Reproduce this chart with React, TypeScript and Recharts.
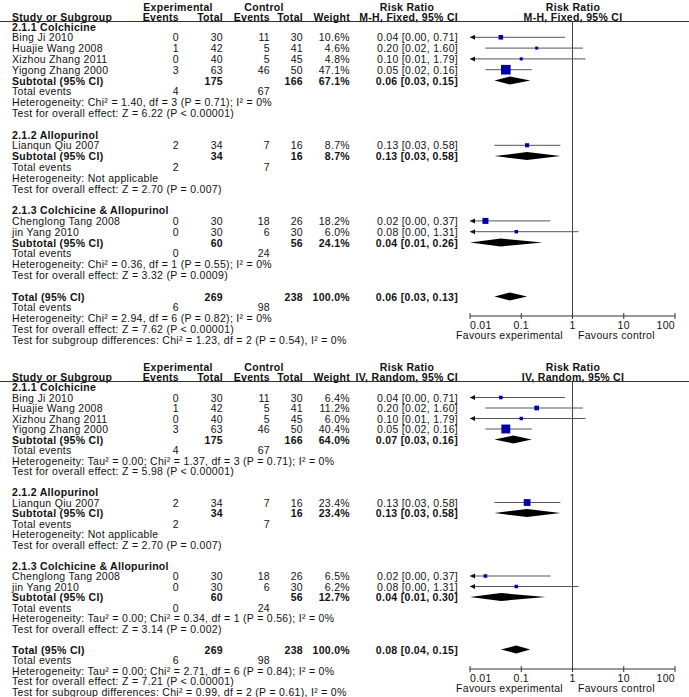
import React from "react";
import { ScatterChart, Scatter, XAxis, YAxis, ReferenceLine } from "recharts";

// studies
const studyNames = [
  "Bing Ji 2010",
  "Huajie Wang 2008",
  "Xizhou Zhang 2011",
  "Yigong Zhang 2000",
  "Lianqun Qiu 2007",
  "Chenglong Tang 2008",
  "jin Yang 2010",
];
const studyGroup = [0, 0, 0, 0, 1, 2, 2];
const expEvents = [0, 1, 0, 3, 2, 0, 0];
const expTotals = [30, 42, 40, 63, 34, 30, 30];
const ctrlEvents = [11, 5, 5, 46, 7, 18, 6];
const ctrlTotals = [30, 41, 45, 50, 16, 26, 30];
const studyRR = [0.04, 0.2, 0.1, 0.05, 0.13, 0.02, 0.08];
const studyLower = [0.0, 0.02, 0.01, 0.02, 0.03, 0.0, 0.0];
const studyUpper = [0.71, 1.6, 1.79, 0.16, 0.58, 0.37, 1.31];
const fixedWeights = [10.6, 4.6, 4.8, 47.1, 8.7, 18.2, 6.0];
const randomWeights = [6.4, 11.2, 6.0, 40.4, 23.4, 6.5, 6.2];

// subgroups
const groupNames = ["2.1.1 Colchicine", "2.1.2 Allopurinol", "2.1.3 Colchicine & Allopurinol"];
const groupExpEvents = [4, 2, 0];
const groupExpTotals = [175, 34, 60];
const groupCtrlEvents = [67, 7, 24];
const groupCtrlTotals = [166, 16, 56];

const fixedGroupRR = [0.06, 0.13, 0.04];
const fixedGroupLower = [0.03, 0.03, 0.01];
const fixedGroupUpper = [0.15, 0.58, 0.26];
const fixedGroupWeights = [67.1, 8.7, 24.1];
const fixedGroupHet = [
  "Heterogeneity: Chi² = 1.40, df = 3 (P = 0.71); I² = 0%",
  "Heterogeneity: Not applicable",
  "Heterogeneity: Chi² = 0.36, df = 1 (P = 0.55); I² = 0%",
];
const fixedGroupTest = [
  "Test for overall effect: Z = 6.22 (P < 0.00001)",
  "Test for overall effect: Z = 2.70 (P = 0.007)",
  "Test for overall effect: Z = 3.32 (P = 0.0009)",
];

const randomGroupRR = [0.07, 0.13, 0.04];
const randomGroupLower = [0.03, 0.03, 0.01];
const randomGroupUpper = [0.16, 0.58, 0.3];
const randomGroupWeights = [64.0, 23.4, 12.7];
const randomGroupHet = [
  "Heterogeneity: Tau² = 0.00; Chi² = 1.37, df = 3 (P = 0.71); I² = 0%",
  "Heterogeneity: Not applicable",
  "Heterogeneity: Tau² = 0.00; Chi² = 0.34, df = 1 (P = 0.56); I² = 0%",
];
const randomGroupTest = [
  "Test for overall effect: Z = 5.98 (P < 0.00001)",
  "Test for overall effect: Z = 2.70 (P = 0.007)",
  "Test for overall effect: Z = 3.14 (P = 0.002)",
];

// overall
const totalCounts = [6, 269, 98, 238]; // exp events, exp total, ctrl events, ctrl total
const fixedTotal = [0.06, 0.03, 0.13];
const randomTotal = [0.08, 0.04, 0.15];
const fixedTotalNotes = [
  "Heterogeneity: Chi² = 2.94, df = 6 (P = 0.82); I² = 0%",
  "Test for overall effect: Z = 7.62 (P < 0.00001)",
  "Test for subgroup differences: Chi² = 1.23, df = 2 (P = 0.54), I² = 0%",
];
const randomTotalNotes = [
  "Heterogeneity: Tau² = 0.00; Chi² = 2.71, df = 6 (P = 0.84); I² = 0%",
  "Test for overall effect: Z = 7.21 (P < 0.00001)",
  "Test for subgroup differences: Chi² = 0.99, df = 2 (P = 0.61), I² = 0%",
];

const axisTicks = [0.01, 0.1, 1, 10, 100];

const FONT = "'Liberation Sans', Arial, sans-serif";
const FS = 10.5;
const LS = 0.3;
const W = 689;
const PLOT_LEFT = 470;
const PLOT_RIGHT = 675;
const X_MIN = 0.01;
const COL = { name: 12, expEv: 179, expTot: 223, ctlEv: 270, ctlTot: 303, weight: 350, ci: 458, forest: 573 };

type Geo = { height: number; head1: number; head2: number; rule: number; row0: number; rowH: number; axisY: number };

type Model = {
  method: string;
  weights: number[];
  groupRR: number[];
  groupLower: number[];
  groupUpper: number[];
  groupWeights: number[];
  groupHet: string[];
  groupTest: string[];
  total: number[];
  totalNotes: string[];
};

const ci = (rr: number, lo: number, hi: number) => `${rr.toFixed(2)} [${lo.toFixed(2)}, ${hi.toFixed(2)}]`;
const pct = (w: number) => `${w.toFixed(1)}%`;

function StudyMark({ points, lower, weight }: any) {
  if (!points || points.length < 3) return <g />;
  const [a, m, b] = points;
  const s = Math.max(2.5, 1.4 * Math.sqrt(weight));
  return (
    <g>
      <line x1={a.x} x2={b.x} y1={m.y} y2={m.y} stroke="#555" strokeWidth={1} />
      {lower <= X_MIN && <path d={`M${a.x},${m.y} l5,-2.5 l0,5 z`} fill="#111" />}
      <rect x={m.x - s / 2} y={m.y - s / 2} width={s} height={s} fill="#0000a8" />
    </g>
  );
}

function DiamondMark({ points }: any) {
  if (!points || points.length < 3) return <g />;
  const [a, m, b] = points;
  const h = 4;
  return <path d={`M${a.x},${m.y} L${m.x},${m.y - h} L${b.x},${m.y} L${m.x},${m.y + h} Z`} fill="#000" />;
}

function AxisTick({ x, y, payload, index }: any) {
  const anchor = index === 0 ? "start" : index === axisTicks.length - 1 ? "end" : "middle";
  return (
    <g>
      <line x1={x} x2={x} y1={y - 3} y2={y + 3} stroke="#333" />
      <text
        x={x}
        y={y + 8.5}
        textAnchor={anchor}
        dominantBaseline="central"
        fontSize={FS}
        fontFamily={FONT}
        letterSpacing={LS}
        fill="#111"
      >
        {String(payload.value)}
      </text>
    </g>
  );
}

function T({ x, y, children, anchor = "start", bold = false }: any) {
  return (
    <text x={x} y={y} textAnchor={anchor} dominantBaseline="central" fontWeight={bold ? "bold" : "normal"}>
      {children}
    </text>
  );
}

function Panel({ model, geo, top }: { model: Model; geo: Geo; top: number }) {
  const rowY = (r: number) => geo.row0 + geo.rowH * r;

  // row layout
  let r = 0;
  const headRow: number[] = [];
  const studyRow: number[] = [];
  const subRow: number[] = [];
  groupNames.forEach((_, gi) => {
    headRow[gi] = r++;
    studyNames.forEach((_, si) => {
      if (studyGroup[si] === gi) studyRow[si] = r++;
    });
    subRow[gi] = r;
    r += 5;
  });
  const totalRow = r;

  const yMin = (geo.rule - geo.row0) / geo.rowH;
  const yMax = (geo.axisY - geo.row0) / geo.rowH;

  return (
    <div style={{ position: "absolute", left: 0, top, width: W, height: geo.height }}>
      <ScatterChart
        width={W}
        height={geo.height}
        margin={{ top: geo.rule, right: W - PLOT_RIGHT, bottom: 0, left: PLOT_LEFT }}
      >
        <XAxis
          type="number"
          dataKey="x"
          scale="log"
          domain={[X_MIN, 100]}
          allowDataOverflow
          ticks={axisTicks}
          interval={0}
          tickLine={false}
          tickSize={0}
          tickMargin={0}
          height={geo.height - geo.axisY}
          axisLine={{ stroke: "#333" }}
          tick={<AxisTick />}
        />
        <YAxis type="number" dataKey="y" hide reversed domain={[yMin, yMax]} allowDataOverflow width={0} />
        <ReferenceLine x={1} stroke="#444" strokeWidth={1} />
        {studyNames.map((_, i) => (
          <Scatter
            key={`s${i}`}
            data={[
              { x: Math.max(studyLower[i], X_MIN), y: studyRow[i] },
              { x: studyRR[i], y: studyRow[i] },
              { x: studyUpper[i], y: studyRow[i] },
            ]}
            line={(p: any) => <StudyMark points={p.points} lower={studyLower[i]} weight={model.weights[i]} />}
            shape={() => <g />}
            isAnimationActive={false}
          />
        ))}
        {groupNames.map((_, gi) => (
          <Scatter
            key={`g${gi}`}
            data={[
              { x: Math.max(model.groupLower[gi], X_MIN), y: subRow[gi] },
              { x: model.groupRR[gi], y: subRow[gi] },
              { x: model.groupUpper[gi], y: subRow[gi] },
            ]}
            line={(p: any) => <DiamondMark points={p.points} />}
            shape={() => <g />}
            isAnimationActive={false}
          />
        ))}
        <Scatter
          data={[
            { x: model.total[1], y: totalRow },
            { x: model.total[0], y: totalRow },
            { x: model.total[2], y: totalRow },
          ]}
          line={(p: any) => <DiamondMark points={p.points} />}
          shape={() => <g />}
          isAnimationActive={false}
        />
      </ScatterChart>

      <svg
        width={W}
        height={geo.height}
        style={{ position: "absolute", left: 0, top: 0, pointerEvents: "none" }}
      >
        <g fontFamily={FONT} fontSize={FS} letterSpacing={LS} fill="#111">
          <T x={178} y={geo.head1} anchor="middle" bold>Experimental</T>
          <T x={264} y={geo.head1} anchor="middle" bold>Control</T>
          <T x={407} y={geo.head1} anchor="middle" bold>Risk Ratio</T>
          <T x={COL.forest} y={geo.head1} anchor="middle" bold>Risk Ratio</T>
          <T x={COL.name} y={geo.head2} bold>Study or Subgroup</T>
          <T x={COL.expEv} y={geo.head2} anchor="end" bold>Events</T>
          <T x={COL.expTot} y={geo.head2} anchor="end" bold>Total</T>
          <T x={COL.ctlEv} y={geo.head2} anchor="end" bold>Events</T>
          <T x={COL.ctlTot} y={geo.head2} anchor="end" bold>Total</T>
          <T x={COL.weight} y={geo.head2} anchor="end" bold>Weight</T>
          <T x={COL.ci} y={geo.head2} anchor="end" bold>{model.method}</T>
          <T x={COL.forest} y={geo.head2} anchor="middle" bold>{model.method}</T>
          <line x1={0} x2={W} y1={geo.rule} y2={geo.rule} stroke="#333" strokeWidth={1} />

          {groupNames.map((g, gi) => (
            <g key={`gt${gi}`}>
              <T x={COL.name} y={rowY(headRow[gi])} bold>{g}</T>
              <T x={COL.name} y={rowY(subRow[gi])} bold>Subtotal (95% CI)</T>
              <T x={COL.expTot} y={rowY(subRow[gi])} anchor="end" bold>{groupExpTotals[gi]}</T>
              <T x={COL.ctlTot} y={rowY(subRow[gi])} anchor="end" bold>{groupCtrlTotals[gi]}</T>
              <T x={COL.weight} y={rowY(subRow[gi])} anchor="end" bold>{pct(model.groupWeights[gi])}</T>
              <T x={COL.ci} y={rowY(subRow[gi])} anchor="end" bold>
                {ci(model.groupRR[gi], model.groupLower[gi], model.groupUpper[gi])}
              </T>
              <T x={COL.name} y={rowY(subRow[gi] + 1)}>Total events</T>
              <T x={COL.expEv} y={rowY(subRow[gi] + 1)} anchor="end">{groupExpEvents[gi]}</T>
              <T x={COL.ctlEv} y={rowY(subRow[gi] + 1)} anchor="end">{groupCtrlEvents[gi]}</T>
              <T x={COL.name} y={rowY(subRow[gi] + 2)}>{model.groupHet[gi]}</T>
              <T x={COL.name} y={rowY(subRow[gi] + 3)}>{model.groupTest[gi]}</T>
            </g>
          ))}

          {studyNames.map((s, i) => (
            <g key={`st${i}`}>
              <T x={COL.name} y={rowY(studyRow[i])}>{s}</T>
              <T x={COL.expEv} y={rowY(studyRow[i])} anchor="end">{expEvents[i]}</T>
              <T x={COL.expTot} y={rowY(studyRow[i])} anchor="end">{expTotals[i]}</T>
              <T x={COL.ctlEv} y={rowY(studyRow[i])} anchor="end">{ctrlEvents[i]}</T>
              <T x={COL.ctlTot} y={rowY(studyRow[i])} anchor="end">{ctrlTotals[i]}</T>
              <T x={COL.weight} y={rowY(studyRow[i])} anchor="end">{pct(model.weights[i])}</T>
              <T x={COL.ci} y={rowY(studyRow[i])} anchor="end">{ci(studyRR[i], studyLower[i], studyUpper[i])}</T>
            </g>
          ))}

          <T x={COL.name} y={rowY(totalRow)} bold>Total (95% CI)</T>
          <T x={COL.expTot} y={rowY(totalRow)} anchor="end" bold>{totalCounts[1]}</T>
          <T x={COL.ctlTot} y={rowY(totalRow)} anchor="end" bold>{totalCounts[3]}</T>
          <T x={COL.weight} y={rowY(totalRow)} anchor="end" bold>100.0%</T>
          <T x={COL.ci} y={rowY(totalRow)} anchor="end" bold>{ci(model.total[0], model.total[1], model.total[2])}</T>
          <T x={COL.name} y={rowY(totalRow + 1)}>Total events</T>
          <T x={COL.expEv} y={rowY(totalRow + 1)} anchor="end">{totalCounts[0]}</T>
          <T x={COL.ctlEv} y={rowY(totalRow + 1)} anchor="end">{totalCounts[2]}</T>
          {model.totalNotes.map((n, k) => (
            <T key={`tn${k}`} x={COL.name} y={rowY(totalRow + 2 + k)}>{n}</T>
          ))}

          <T x={563} y={geo.axisY + 19} anchor="end">Favours experimental</T>
          <T x={578} y={geo.axisY + 19}>Favours control</T>
        </g>
      </svg>
    </div>
  );
}

const fixedModel: Model = {
  method: "M-H, Fixed, 95% CI",
  weights: fixedWeights,
  groupRR: fixedGroupRR,
  groupLower: fixedGroupLower,
  groupUpper: fixedGroupUpper,
  groupWeights: fixedGroupWeights,
  groupHet: fixedGroupHet,
  groupTest: fixedGroupTest,
  total: fixedTotal,
  totalNotes: fixedTotalNotes,
};

const randomModel: Model = {
  method: "IV, Random, 95% CI",
  weights: randomWeights,
  groupRR: randomGroupRR,
  groupLower: randomGroupLower,
  groupUpper: randomGroupUpper,
  groupWeights: randomGroupWeights,
  groupHet: randomGroupHet,
  groupTest: randomGroupTest,
  total: randomTotal,
  totalNotes: randomTotalNotes,
};

const topGeo: Geo = { height: 352, head1: 6.5, head2: 16.5, rule: 21.5, row0: 26.5, rowH: 10.8, axisY: 316 };
const bottomGeo: Geo = { height: 337, head1: 6.5, head2: 16.5, rule: 21.5, row0: 27, rowH: 10.5, axisY: 309 };

export default function App() {
  return (
    <div style={{ position: "absolute", left: 0, top: 0, width: W, height: 697, background: "#fff", overflow: "hidden" }}>
      <Panel model={fixedModel} geo={topGeo} top={0} />
      <Panel model={randomModel} geo={bottomGeo} top={360} />
    </div>
  );
}
